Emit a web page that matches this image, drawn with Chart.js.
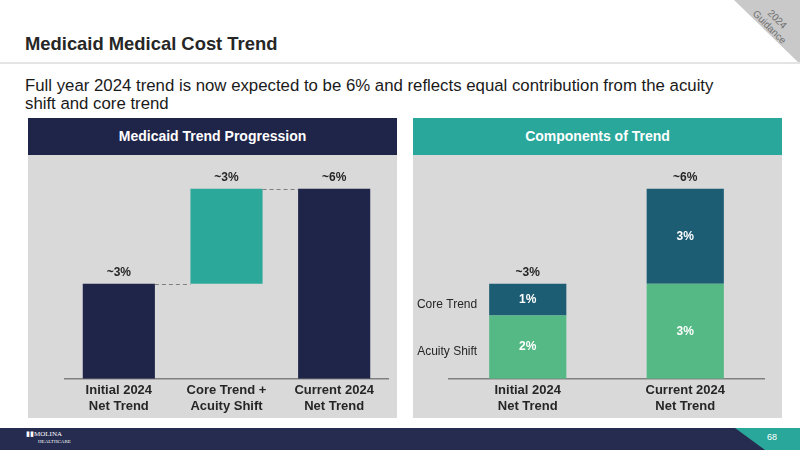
<!DOCTYPE html>
<html>
<head>
<meta charset="utf-8">
<script src="https://cdn.jsdelivr.net/npm/chart.js@4"></script>
<style>
  html, body { margin: 0; padding: 0; }
  body { width: 800px; height: 450px; position: relative; overflow: hidden; background: #fff; font-family: 'Liberation Sans', Arial, sans-serif; }
  .abs { position: absolute; }
  #title { left: 25px; top: 33px; font-size: 18.4px; font-weight: bold; color: #262626; }
  #rule { left: 0; top: 62px; width: 800px; height: 2px; background: #e4e4e4; }
  #sub { left: 25px; top: 77px; width: 700px; font-size: 16.8px; line-height: 18px; color: #1a1a1a; }
  .head { top: 118px; height: 37px; color: #fff; font-weight: bold; font-size: 14px; line-height: 37px; text-align: center; }
  .panel { top: 155px; height: 263px; width: 369px; background: #d9d9d9; }
  #footer { left: 0; top: 428px; width: 800px; height: 22px; background: #252c4f; }
  #corner { right: 0; top: 0; width: 0; height: 0; border-top: 64px solid #c9c9c9; border-left: 66px solid transparent; }
</style>
</head>
<body>
<div class="abs" id="corner"></div>
<div class="abs" style="left:752px;top:12px;transform:rotate(45deg);font-size:10px;color:#707070;text-align:center;line-height:11px;">2024<br>Guidance</div>
<div class="abs" id="title">Medicaid Medical Cost Trend</div>
<div class="abs" id="rule"></div>
<div class="abs" id="sub">Full year 2024 trend is now expected to be 6% and reflects equal contribution from the acuity shift and core trend</div>

<div class="abs head" style="left:28px;width:369px;background:#1f2549;">Medicaid Trend Progression</div>
<div class="abs head" style="left:413px;width:369px;background:#2aa79b;">Components of Trend</div>
<div class="abs panel" style="left:28px;"><canvas id="left" width="369" height="263"></canvas></div>
<div class="abs panel" style="left:413px;"><canvas id="right" width="369" height="263"></canvas></div>

<div class="abs" id="footer"></div>
<div class="abs" style="left:735px;top:428px;width:80px;height:22px;background:#2aa79b;clip-path:polygon(0 0,100% 0,100% 100%,30px 100%);"></div>
<div class="abs" style="left:767px;top:432px;font-size:9px;color:#fff;">68</div>
<div class="abs" style="left:26px;top:431px;font-size:7px;line-height:7px;color:#fff;font-family:'Liberation Serif',serif;">&#9646;&#9646;MOLINA<br><span style="font-size:5px;margin-left:12px;">HEALTHCARE</span></div>

<script>
// left chart: waterfall
const progCategories = [['Initial 2024', 'Net Trend'], ['Core Trend +', 'Acuity Shift'], ['Current 2024', 'Net Trend']];
const progStart = [0, 3, 0];
const progEnd = [3, 6, 6];
const progLabels = ['~3%', '~3%', '~6%'];

// right chart: components
const compCategories = [['Initial 2024', 'Net Trend'], ['Current 2024', 'Net Trend']];
const acuityShift = [2, 3];
const coreTrend = [1, 3];
const compTotals = ['~3%', '~6%'];

const NAVY = '#1f2549';
const TEAL = '#2ca89a';
const GREEN = '#55b985';
const DARK_TEAL = '#1c5d74';

Chart.defaults.font.family = "'Liberation Sans', Arial, sans-serif";
Chart.defaults.color = '#262626';
Chart.defaults.animation = false;

const xAxis = {
  grid: { display: false, drawTicks: false },
  border: { display: true, color: '#808080', width: 1.5 },
  ticks: { padding: 4, color: '#262626', maxRotation: 0, autoSkip: false, font: { size: 13, weight: 'bold', lineHeight: 1.2 } }
};
const yAxis = { display: false, min: 0, max: 7 };

const waterfallPlugin = {
  id: 'waterfall',
  afterDatasetsDraw(chart) {
    const ctx = chart.ctx;
    const meta = chart.getDatasetMeta(0);
    const y = chart.scales.y;
    ctx.save();
    // connectors
    ctx.strokeStyle = '#7f7f7f';
    ctx.lineWidth = 1;
    ctx.setLineDash([4, 3]);
    for (let i = 0; i < meta.data.length - 1; i++) {
      const a = meta.data[i], b = meta.data[i + 1];
      const py = Math.round(y.getPixelForValue(progEnd[i])) + 0.5;
      ctx.beginPath();
      ctx.moveTo(a.x + a.width / 2, py);
      ctx.lineTo(b.x - b.width / 2, py);
      ctx.stroke();
    }
    ctx.setLineDash([]);
    // labels above bars
    ctx.fillStyle = '#262626';
    ctx.font = "bold 12px 'Liberation Sans', Arial, sans-serif";
    ctx.textAlign = 'center';
    ctx.textBaseline = 'bottom';
    meta.data.forEach((bar, i) => {
      ctx.fillText(progLabels[i], bar.x, y.getPixelForValue(progEnd[i]) - 5);
    });
    ctx.restore();
  }
};

new Chart(document.getElementById('left'), {
  type: 'bar',
  data: {
    labels: progCategories,
    datasets: [{
      data: progStart.map((s, i) => [s, progEnd[i]]),
      backgroundColor: [NAVY, TEAL, NAVY],
      barPercentage: 1,
      categoryPercentage: 0.67
    }]
  },
  options: {
    responsive: false,
    layout: { padding: { left: 37, right: 9, top: 2, bottom: 0 } },
    plugins: { legend: { display: false }, tooltip: { enabled: false } },
    scales: { x: xAxis, y: yAxis }
  },
  plugins: [waterfallPlugin]
});

const stackPlugin = {
  id: 'stackLabels',
  afterDatasetsDraw(chart) {
    const ctx = chart.ctx;
    ctx.save();
    ctx.textAlign = 'center';
    ctx.textBaseline = 'middle';
    chart.data.datasets.forEach((ds, d) => {
      const meta = chart.getDatasetMeta(d);
      meta.data.forEach((bar, i) => {
        ctx.fillStyle = '#ffffff';
        ctx.font = "bold 12px 'Liberation Sans', Arial, sans-serif";
        ctx.fillText(ds.data[i] + '%', bar.x, (bar.y + bar.base) / 2);
      });
      // series name left of the first bar
      const first = meta.data[0];
      ctx.fillStyle = '#262626';
      ctx.font = "12px 'Liberation Sans', Arial, sans-serif";
      ctx.textAlign = 'right';
      ctx.fillText(ds.label, first.x - first.width / 2 - 12, (first.y + first.base) / 2 + 5);
      ctx.textAlign = 'center';
    });
    // totals
    const top = chart.getDatasetMeta(chart.data.datasets.length - 1);
    ctx.fillStyle = '#262626';
    ctx.font = "bold 12px 'Liberation Sans', Arial, sans-serif";
    ctx.textBaseline = 'bottom';
    top.data.forEach((bar, i) => {
      ctx.fillText(compTotals[i], bar.x, bar.y - 5);
    });
    ctx.restore();
  }
};

new Chart(document.getElementById('right'), {
  type: 'bar',
  data: {
    labels: compCategories,
    datasets: [
      { label: 'Acuity Shift', data: acuityShift, backgroundColor: GREEN, barPercentage: 1, categoryPercentage: 0.49 },
      { label: 'Core Trend', data: coreTrend, backgroundColor: DARK_TEAL, barPercentage: 1, categoryPercentage: 0.49 }
    ]
  },
  options: {
    responsive: false,
    layout: { padding: { left: 36, right: 18, top: 2, bottom: 0 } },
    plugins: { legend: { display: false }, tooltip: { enabled: false } },
    scales: { x: Object.assign({}, xAxis, { stacked: true }), y: Object.assign({}, yAxis, { stacked: true }) }
  },
  plugins: [stackPlugin]
});
</script>
</body>
</html>
